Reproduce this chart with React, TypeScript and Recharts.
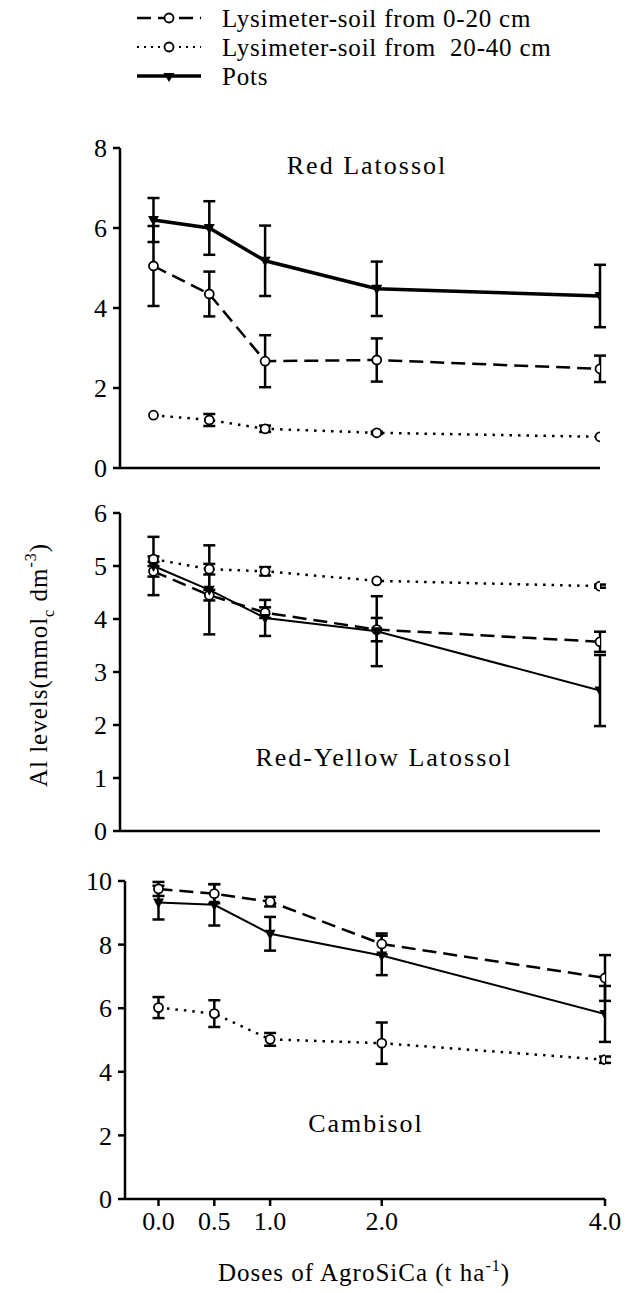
import { LineChart, Line, XAxis, YAxis, ErrorBar } from "recharts"

const FONT = "'Liberation Serif', 'Times New Roman', serif"

const doses = [0, 0.5, 1, 2, 4]
const doseTicks = [0, 0.5, 1, 2, 4]

// Red Latossol
const redTop = [5.05, 4.35, 2.67, 2.7, 2.48]
const redTopErr = [1.0, 0.56, 0.65, 0.54, 0.33]
const redSub = [1.32, 1.2, 0.98, 0.88, 0.78]
const redSubErr = [0, 0.15, 0.08, 0.03, 0]
const redPots = [6.2, 6.0, 5.18, 4.48, 4.3]
const redPotsErr = [0.55, 0.67, 0.88, 0.68, 0.78]

// Red-Yellow Latossol
const ryTop = [4.9, 4.45, 4.12, 3.8, 3.57]
const ryTopErr = [0.1, 0.1, 0.1, 0.22, 0.19]
const rySub = [5.13, 4.94, 4.9, 4.72, 4.62]
const rySubErr = [0.05, 0.1, 0.08, 0, 0.03]
const ryPots = [5.0, 4.55, 4.02, 3.77, 2.65]
const ryPotsErr = [0.55, 0.84, 0.34, 0.66, 0.67]

// Cambisol
const camTop = [9.75, 9.6, 9.35, 8.02, 6.95]
const camTopErr = [0.22, 0.3, 0.15, 0.33, 0.72]
const camSub = [6.02, 5.83, 5.02, 4.9, 4.38]
const camSubErr = [0.33, 0.42, 0.2, 0.65, 0.1]
const camPots = [9.32, 9.25, 8.34, 7.66, 5.82]
const camPotsErr = [0.53, 0.65, 0.53, 0.62, 0.88]

const legendLabels = ["Lysimeter-soil from 0-20 cm", "Lysimeter-soil from  20-40 cm", "Pots"]

function rows(top: number[], topErr: number[], sub: number[], subErr: number[], pots: number[], potsErr: number[]) {
  return doses.map((d, i) => ({
    dose: d,
    top: top[i], topErr: topErr[i],
    sub: sub[i], subErr: subErr[i],
    pots: pots[i], potsErr: potsErr[i],
  }))
}

const OpenDot = (props: any) => {
  const { cx, cy } = props
  if (cx == null || cy == null) return null
  return <circle cx={cx} cy={cy} r={4.5} fill="#fff" stroke="#000" strokeWidth={1.8} />
}

const TriDot = (props: any) => {
  const { cx, cy } = props
  if (cx == null || cy == null) return null
  return <polygon points={`${cx - 5.5},${cy - 4} ${cx + 5.5},${cy - 4} ${cx},${cy + 6}`} fill="#000" />
}

const tickStyle = { fill: "#000", fontSize: 26, fontFamily: FONT }
const axisLine = { stroke: "#000", strokeWidth: 2.5 }

interface PanelProps {
  top: number
  height: number
  left: number
  right: number
  xHeight: number
  data: any[]
  yMax: number
  yTicks: number[]
  potsWidth: number
  showX: boolean
}

function Panel({ top, height, left, right, xHeight, data, yMax, yTicks, potsWidth, showX }: PanelProps) {
  return (
    <div style={{ position: "absolute", left: 0, top }}>
      <LineChart width={629} height={height} data={data} margin={{ top: 14, right, bottom: 0, left }}>
        <XAxis
          type="number"
          dataKey="dose"
          domain={[-0.3, 4]}
          ticks={doseTicks}
          interval={0}
          tickFormatter={(v: number) => v.toFixed(1)}
          tick={showX ? tickStyle : false}
          tickSize={7}
          tickMargin={6}
          height={xHeight}
          axisLine={axisLine}
          tickLine={axisLine}
          allowDataOverflow
        />
        <YAxis
          type="number"
          domain={[0, yMax]}
          ticks={yTicks}
          interval={0}
          tick={tickStyle}
          tickSize={7}
          tickMargin={6}
          width={50}
          axisLine={axisLine}
          tickLine={axisLine}
        />
        <Line dataKey="sub" stroke="#000" strokeWidth={2.5} strokeDasharray="2.5 6" dot={<OpenDot />} isAnimationActive={false}>
          <ErrorBar dataKey="subErr" direction="y" width={6} stroke="#000" strokeWidth={2.5} />
        </Line>
        <Line dataKey="top" stroke="#000" strokeWidth={2.5} strokeDasharray="14 7" dot={<OpenDot />} isAnimationActive={false}>
          <ErrorBar dataKey="topErr" direction="y" width={6} stroke="#000" strokeWidth={2.5} />
        </Line>
        <Line dataKey="pots" stroke="#000" strokeWidth={potsWidth} dot={<TriDot />} isAnimationActive={false}>
          <ErrorBar dataKey="potsErr" direction="y" width={6} stroke="#000" strokeWidth={2.5} />
        </Line>
      </LineChart>
    </div>
  )
}

function Overlay() {
  const rowY = [18, 47, 76]
  return (
    <svg width={629} height={1293} style={{ position: "absolute", left: 0, top: 0, pointerEvents: "none" }}>
      {/* legend */}
      <line x1={137} y1={rowY[0]} x2={201} y2={rowY[0]} stroke="#000" strokeWidth={2.5} strokeDasharray="14 7" />
      <circle cx={169} cy={rowY[0]} r={4.5} fill="#fff" stroke="#000" strokeWidth={1.8} />
      <line x1={137} y1={rowY[1]} x2={201} y2={rowY[1]} stroke="#000" strokeWidth={2} strokeDasharray="2 5" />
      <circle cx={169} cy={rowY[1]} r={4.5} fill="#fff" stroke="#000" strokeWidth={1.8} />
      <line x1={137} y1={rowY[2]} x2={201} y2={rowY[2]} stroke="#000" strokeWidth={3.5} />
      <polygon points={`163.5,${rowY[2] - 3} 174.5,${rowY[2] - 3} 169,${rowY[2] + 6}`} fill="#000" />
      {legendLabels.map((t, i) => (
        <text key={t} x={222} y={rowY[i]} dy="0.35em" fontSize={25} letterSpacing={0.8} fill="#000" style={{ whiteSpace: "pre" }}>
          {t}
        </text>
      ))}
      {/* panel names */}
      <text x={367} y={165} dy="0.35em" textAnchor="middle" fontSize={26} letterSpacing={2} fill="#000">Red Latossol</text>
      <text x={384} y={757} dy="0.35em" textAnchor="middle" fontSize={26} letterSpacing={2} fill="#000">Red-Yellow Latossol</text>
      <text x={366} y={1123} dy="0.35em" textAnchor="middle" fontSize={26} letterSpacing={2} fill="#000">Cambisol</text>
      {/* axis titles */}
      <text transform="translate(38,665) rotate(-90)" textAnchor="middle" dy="0.35em" fontSize={25} letterSpacing={1} fill="#000">
        Al levels(mmol<tspan fontSize={16} dy="7">c</tspan>
        <tspan dy="-7"> dm</tspan>
        <tspan fontSize={16} dy="-11">-3</tspan>
        <tspan dy="11">)</tspan>
      </text>
      <text x={364} y={1272} dy="0.35em" textAnchor="middle" fontSize={25} letterSpacing={1} fill="#000">
        Doses of AgroSiCa (t ha<tspan fontSize={16} dy="-10">-1</tspan>
        <tspan dy="10">)</tspan>
      </text>
    </svg>
  )
}

export default function App() {
  const red = rows(redTop, redTopErr, redSub, redSubErr, redPots, redPotsErr)
  const ry = rows(ryTop, ryTopErr, rySub, rySubErr, ryPots, ryPotsErr)
  const cam = rows(camTop, camTopErr, camSub, camSubErr, camPots, camPotsErr)
  return (
    <div style={{ position: "absolute", left: 0, top: 0, width: 629, height: 1293, background: "#fff" }}>
      <style>{`svg text, svg tspan { font-family: ${FONT} !important; }`}</style>
      <Panel top={134} height={354} left={70} right={29} xHeight={20} data={red} yMax={8} yTicks={[0, 2, 4, 6, 8]} potsWidth={3.5} showX={false} />
      <Panel top={499} height={352} left={70} right={29} xHeight={20} data={ry} yMax={6} yTicks={[0, 1, 2, 3, 4, 5, 6]} potsWidth={2} showX={false} />
      <Panel top={867} height={392} left={75} right={24} xHeight={60} data={cam} yMax={10} yTicks={[0, 2, 4, 6, 8, 10]} potsWidth={2} showX={true} />
      <Overlay />
    </div>
  )
}
